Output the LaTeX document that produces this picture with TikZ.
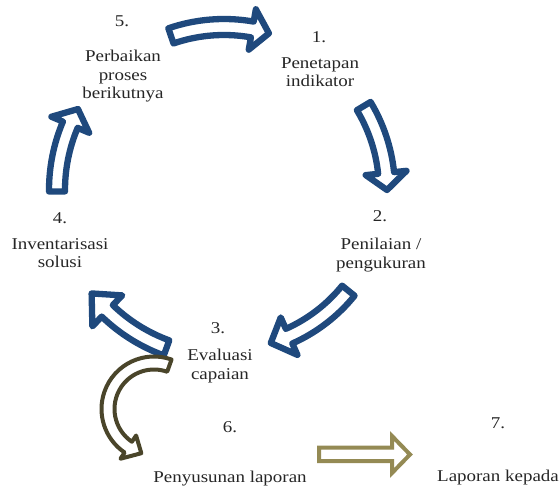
\documentclass[tikz,border=0pt]{standalone}
\usepackage{fontspec}
\setmainfont{Liberation Serif}[FakeStretch=1.15]
\usepackage{tikz}
\usetikzlibrary{calc,shadows}
\definecolor{cycblue}{RGB}{31,73,125}
\definecolor{darkolive}{RGB}{74,69,42}
\definecolor{tanolive}{RGB}{148,138,84}
\newcommand\arcarrow[8]{%
\draw[#1] ($(#2)+(#6:#3+#4)$) arc[start angle=#6,end angle=#7,radius=#3+#4]
 -- ($(#2)+(#7:#3+#5)$) -- ($(#2)+(#8:#3)$) -- ($(#2)+(#7:#3-#5)$) -- ($(#2)+(#7:#3-#4)$)
 arc[start angle=#7,end angle=#6,radius=#3-#4] -- cycle;}

\begin{document}
\begin{tikzpicture}[x=1pt,y=1pt,
 every node/.style={font=\fontsize{16.5}{18.7}\selectfont,text=black!85,inner sep=0pt},
 num/.style={anchor=base},
 lbl/.style={anchor=north,align=center},
 cyc/.style={draw=cycblue,line width=6.3pt,fill=white,line join=round,
  drop shadow={shadow xshift=1.5pt,shadow yshift=-2.5pt,opacity=0.25}},
 rep/.style={draw=darkolive,line width=4pt,fill=white,line join=round},
 fwd/.style={draw=tanolive,line width=4pt,fill=white,line join=miter}]
\useasboundingbox (0,0) rectangle (559,-487);

\coordinate (cc) at (224,-190);
\coordinate (rc) at (154,-409);

\node[num] (n5) at (122,-27) {5.};
\node[lbl] (t5) at (123,-49.7) {Perbaikan\\proses\\berikutnya};
\node[num] (n1) at (319,-43) {1.};
\node[lbl] (t1) at (320,-57.1) {Penetapan\\indikator};
\node[num] (n2) at (380,-221) {2.};
\node[lbl] (t2) at (381,-237.7) {Penilaian /\\pengukuran};
\node[num] (n4) at (60,-223) {4.};
\node[lbl] (t4) at (60,-238.1) {Inventarisasi\\solusi};
\node[num] (n3) at (218,-333) {3.};
\node[lbl] (t3) at (220,-348.7) {Evaluasi\\capaian};
\node[num] (n6) at (230,-432) {6.};
\node[lbl] (t6) at (230,-470.7) {Penyusunan laporan};
\node[num] (n7) at (498,-428) {7.};
\node[lbl] (t7) at (498,-469.7) {Laporan kepada};

\arcarrow{cyc}{cc}{163}{8}{20.5}{109}{80}{74}
\arcarrow{cyc}{cc}{163}{8}{20.5}{31}{6}{0}
\arcarrow{cyc}{cc}{160}{8}{20.5}{-39}{-66}{-73}
\arcarrow{cyc}{cc}{168}{8}{21.5}{-110}{-134}{-142}
\arcarrow{cyc}{cc}{167}{8}{20.5}{180.5}{157}{151}

\arcarrow{rep}{rc}{46}{6.5}{14}{70.5}{236}{254}
\draw[fwd] (319,-447.5) -- (392,-447.5) -- (392,-436) -- (410,-454.5) -- (392,-473) -- (392,-461) -- (319,-461) -- cycle;
\end{tikzpicture}
\end{document}
